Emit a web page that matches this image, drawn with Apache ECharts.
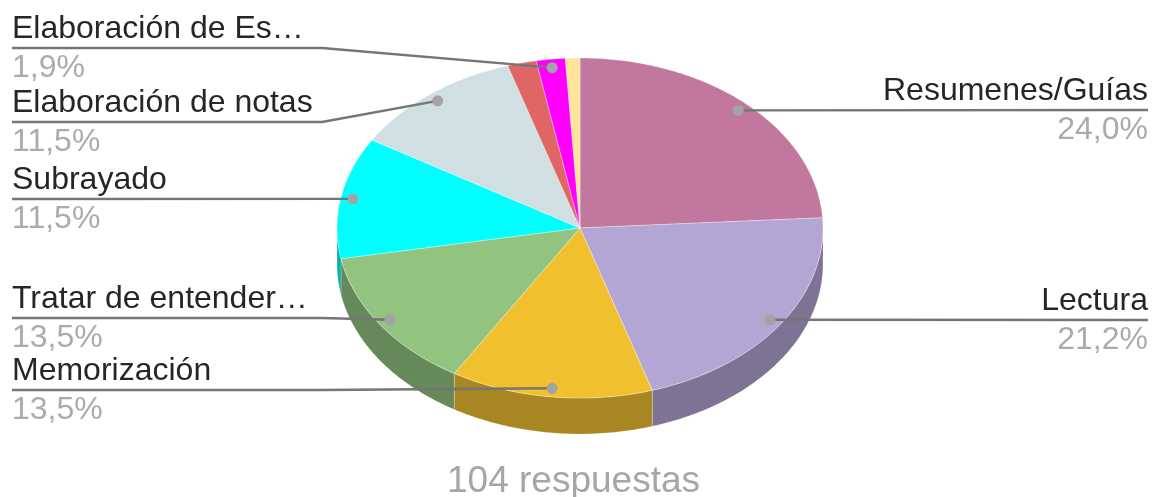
<!DOCTYPE html>
<html><head><meta charset="utf-8">
<style>html,body{margin:0;padding:0;background:#fff}#c{width:1152px;height:497px}</style>
<script src="https://cdn.jsdelivr.net/npm/echarts@6/dist/echarts.min.js"></script>
</head><body><div id="c"></div>
<script>
// --- data ---
var categories = ['Resumenes/Guías','Lectura','Memorización','Tratar de entender…','Subrayado','Elaboración de notas','','Elaboración de Es…',''];
var responses  = [25,22,14,14,12,12,2,2,1];
var percentLabels = ['24,0%','21,2%','13,5%','13,5%','11,5%','11,5%','','1,9%',''];
var colors     = ['#C2779E','#B3A6D4','#F0C02F','#92C47F','#00FFFF','#D0DFE2','#E06666','#FF00FF','#FFE599'];
var sideColors = ['#88536F','#7E7394','#A88621','#668959','#00B2B2','#929C9E','#9D4747','#B200B2','#B2A06B'];
var totalLabel = '104 respuestas';

// --- layout ---
var CX=580, CY=228, RX=243, RY=170, DEPTH=36, ANCHOR=0.95;
var leaderY = [110,320,390,318,199,122,null,48,null];
var ELBOW_X = 322, LEFT_X = 12, RIGHT_X = 1148;
var FONT = '"Liberation Sans", Arial, sans-serif';

var total = responses.reduce(function(a,b){return a+b;},0);
function startAngle(i){var s=0;for(var k=0;k<i;k++)s+=responses[k];return s/total*2*Math.PI;}
function endAngle(i){return startAngle(i)+responses[i]/total*2*Math.PI;}
function pt(a,r,dy){return [CX+RX*r*Math.sin(a), CY-RY*r*Math.cos(a)+(dy||0)];}
function arc(a0,a1,dy){var n=Math.max(2,Math.ceil((a1-a0)*60)),o=[];for(var k=0;k<=n;k++){o.push(pt(a0+(a1-a0)*k/n,1,dy));}return o;}

var idx = responses.map(function(v,i){return [i,v];});
var seam = 'rgba(255,255,255,0.4)';

function renderSide(p,api){
  var i=api.value(0);
  var a0=Math.max(startAngle(i),Math.PI/2), a1=Math.min(endAngle(i),3*Math.PI/2);
  if(a1<=a0) return {type:'group',children:[]};
  var pts=arc(a0,a1,0).concat(arc(a0,a1,DEPTH).reverse());
  return {type:'polygon',shape:{points:pts},style:{fill:sideColors[i],stroke:seam,lineWidth:0.6}};
}
function renderTop(p,api){
  var i=api.value(0);
  var pts=[[CX,CY]].concat(arc(startAngle(i),endAngle(i),0));
  return {type:'polygon',shape:{points:pts},style:{fill:colors[i],stroke:seam,lineWidth:0.8}};
}
function renderLabel(p,api){
  var i=api.value(0);
  if(!categories[i]) return {type:'group',children:[]};
  var mid=(startAngle(i)+endAngle(i))/2, d=pt(mid,ANCHOR), y=leaderY[i];
  var left=d[0]<CX, tx=left?LEFT_X:RIGHT_X;
  var line=[[tx,y]];
  if(left && d[0]>ELBOW_X && Math.abs(d[1]-y)>0.5) line.push([ELBOW_X,y]);
  line.push(d);
  return {type:'group',children:[
    {type:'polyline',shape:{points:line},style:{stroke:'#757575',lineWidth:2.4,fill:null}},
    {type:'circle',shape:{cx:d[0],cy:d[1],r:5.5},style:{fill:'#A3A3A3'}},
    {type:'text',style:{text:categories[i],x:tx,y:y-19,fill:'#262626',font:'32px '+FONT,align:left?'left':'right',verticalAlign:'middle'}},
    {type:'text',style:{text:percentLabels[i],x:tx,y:y+20,fill:'#ABABAB',font:'32px '+FONT,align:left?'left':'right',verticalAlign:'middle'}}
  ]};
}
var chart=echarts.init(document.getElementById('c'),null,{renderer:'canvas'});
chart.setOption({
  animation:false,
  title:{text:totalLabel,left:447,top:463,padding:0,textStyle:{fontFamily:FONT,fontSize:37,fontWeight:'normal',color:'#A6A6A6'}},
  series:[
    {type:'custom',coordinateSystem:'none',silent:true,z:1,data:idx,renderItem:renderSide},
    {type:'custom',coordinateSystem:'none',silent:true,z:2,data:idx,renderItem:renderTop},
    {type:'custom',coordinateSystem:'none',silent:true,z:3,data:idx,renderItem:renderLabel}
  ]
});
</script></body></html>
